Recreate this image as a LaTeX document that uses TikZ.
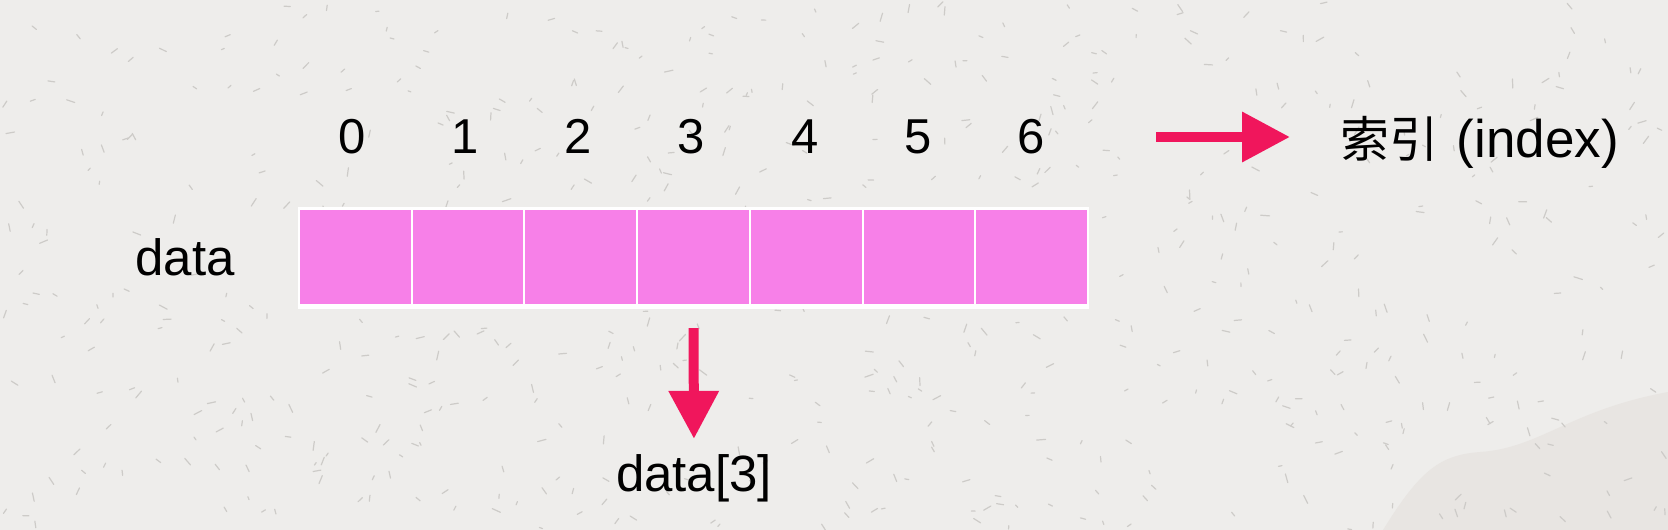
\documentclass[tikz,border=0pt]{standalone}
\usepackage{fontspec}
\setmainfont{Liberation Sans}
\newfontfamily\cjk{Noto Sans CJK SC}
\usetikzlibrary{arrows.meta}
\definecolor{bg}{RGB}{238,237,235}
\definecolor{bgshade}{RGB}{232,229,226}
\definecolor{speck}{RGB}{205,203,200}
\definecolor{cellpink}{RGB}{247,128,232}
\definecolor{arrred}{RGB}{240,22,92}
\tikzset{
  cell/.style={rectangle, fill=cellpink, minimum width=110.7pt, minimum height=94pt, inner sep=0pt},
  idx/.style={anchor=base, inner sep=0pt, font=\fontsize{49}{59}\selectfont},
  lbl/.style={anchor=base, inner sep=0pt, font=\fontsize{51}{61}\selectfont},
  arr/.style={draw=arrred, line width=10pt, -{Triangle[length=48pt, width=48pt]}},
  speckline/.style={draw=speck, line width=1.2pt, line cap=round}
}
\begin{document}
\begin{tikzpicture}[x=1pt, y=-1pt]
\fill[bg] (0,0) rectangle (1668,530);
\useasboundingbox (0,0) rectangle (1668,530);
% faint background wave
\fill[bgshade] (1383,530) .. controls (1420,470) and (1440,455) .. (1480,452)
  .. controls (1540,448) and (1570,410) .. (1668,392) -- (1668,530) -- cycle;
% paper specks
\pgfmathsetseed{7}
\foreach \i in {1,...,650} {
  \pgfmathsetmacro\sx{rnd*1668}
  \pgfmathsetmacro\sy{rnd*530}
  \pgfmathsetmacro\sa{rnd*360}
  \pgfmathsetmacro\sl{3+rnd*6}
  \draw[speckline] (\sx,\sy) -- ++(\sa:\sl);
}
% white frame
\fill[white] (298,207) rectangle (1089,309);
% cells
\foreach \k in {0,...,6} {
  \node[cell] (c\k) at ({355.35+\k*112.7},257) {};
  \node[idx] (n\k) at ({352+\k*113.2},153) {\k};
}
\node[lbl] (data) at (185,275) {data};
\node[lbl] (d3) at (694,491) {data[3]};
\node[anchor=base west, inner sep=0pt, font=\fontsize{53}{63}\selectfont] (index) at (1340,157) {{\cjk\fontsize{49}{59}\selectfont 索引}\hspace{4pt} (index)};
\coordinate (ra) at (1156,137);
\draw[arr] (ra) -- ([xshift=-50pt]index.west |- ra);
\draw[arr, shorten <=24pt, shorten >=15pt] (c3.south) -- (d3.north);
\end{tikzpicture}
\end{document}
